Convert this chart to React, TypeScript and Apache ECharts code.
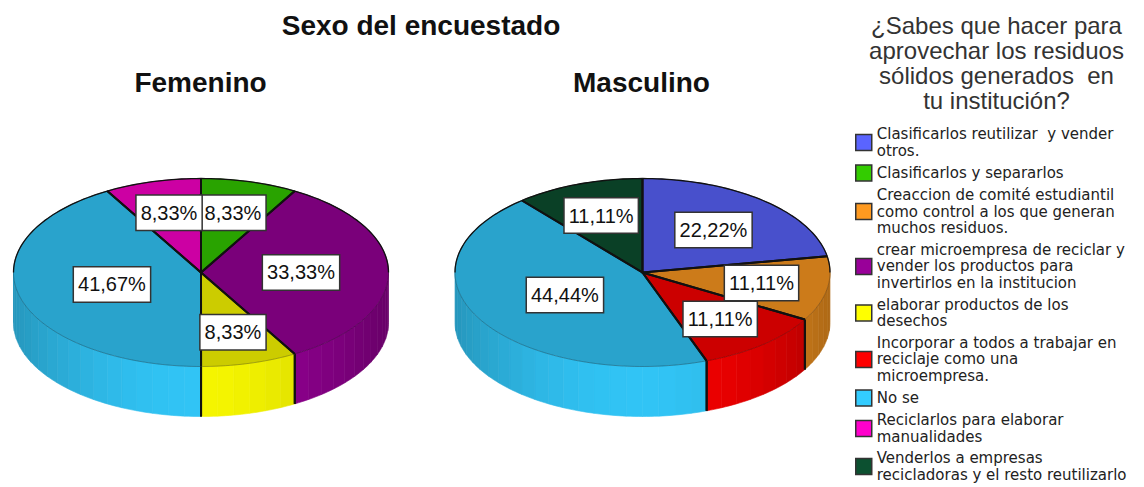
import React, { useEffect, useRef } from "react";
import * as echarts from "echarts";

const mainTitle = "Sexo del encuestado";
const legendTitle = "¿Sabes que hacer para\naprovechar los residuos\nsólidos generados  en\ntu institución?";
const pieNames = ["Femenino", "Masculino"];

const categories = [
  "Clasificarlos reutilizar  y vender\notros.",
  "Clasificarlos y separarlos",
  "Creaccion de comité estudiantil\ncomo control a los que generan\nmuchos residuos.",
  "crear microempresa de reciclar y\nvender los productos para\ninvertirlos en la institucion",
  "elaborar productos de los\ndesechos",
  "Incorporar a todos a trabajar en\nreciclaje como una\nmicroempresa.",
  "No se",
  "Reciclarlos para elaborar\nmanualidades",
  "Venderlos a empresas\nrecicladoras y el resto reutilizarlo",
];
const femeninoValues = [0, 8.33, 0, 33.33, 8.33, 0, 41.67, 8.33, 0];
const masculinoValues = [22.22, 0, 11.11, 0, 0, 11.11, 44.44, 0, 11.11];
const colors = ["#5a64ff", "#33cc00", "#ff9a20", "#990099", "#ffff00", "#ff0000", "#33ccff", "#ff00cc", "#0c5030"];

const FONT = '"Liberation Sans", Arial, sans-serif';
const CENTERS = [201, 642.5];
const CY = 272.5;
const RX = 187.5;
const RY = 94;
const DEPTH = 50;
const TOP_SHADE = 0.8;
const valuesFor = [femeninoValues, masculinoValues];

function shade(hex: string, k: number) {
  const n = parseInt(hex.slice(1), 16);
  const c = [(n >> 16) & 255, (n >> 8) & 255, n & 255].map((v) => Math.min(255, Math.round(v * k)));
  return `rgb(${c[0]},${c[1]},${c[2]})`;
}

function arcPoints(cx: number, a0: number, a1: number, dy = 0) {
  const pts: number[][] = [];
  const n = Math.max(2, Math.ceil((a1 - a0) / 1.5));
  for (let i = 0; i <= n; i++) {
    const t = ((a0 + ((a1 - a0) * i) / n) * Math.PI) / 180;
    pts.push([cx + RX * Math.sin(t), CY - RY * Math.cos(t) + dy]);
  }
  return pts;
}

function sideBrightness(deg: number) {
  const t = Math.max(0, -Math.cos((deg * Math.PI) / 180));
  return (deg > 180 ? 0.74 : 0.68) + (deg > 180 ? 0.22 : 0.28) * t * t;
}

function makeRenderItem(s: number) {
  return (params: any) => {
    const p = params.dataIndex;
    const vals = valuesFor[p];
    const value = vals[s];
    if (!value) return { type: "group", children: [] };
    const total = vals.reduce((a, b) => a + b, 0);
    const before = vals.slice(0, s).reduce((a, b) => a + b, 0);
    const a0 = (before / total) * 360;
    const a1 = ((before + value) / total) * 360;
    const cx = CENTERS[p];
    const base = colors[s];
    const children: any[] = [];

    // side wall, in narrow strips, only on the front half of the rim
    const f0 = Math.max(a0, 90);
    const f1 = Math.min(a1, 270);
    if (f1 > f0) {
      const STEP = 5;
      for (let d = f0; d < f1 - 1e-6; d += STEP) {
        const e = Math.min(d + STEP, f1);
        const up = arcPoints(cx, d, e);
        const down = arcPoints(cx, d, e, DEPTH).reverse();
        const col = shade(base, sideBrightness((d + e) / 2));
        children.push({
          type: "polygon",
          shape: { points: up.concat(down) },
          style: { fill: col, stroke: col, lineWidth: 0.6 },
          z2: 1,
        });
      }
      [a0, a1].forEach((a) => {
        if (a > 90.01 && a < 269.99) {
          const [pt] = arcPoints(cx, a, a + 1);
          children.push({
            type: "line",
            shape: { x1: pt[0], y1: pt[1], x2: pt[0], y2: pt[1] + DEPTH },
            style: { stroke: "#111", lineWidth: 2 },
            z2: 3,
          });
        }
      });
    }

    // top face
    const rim = arcPoints(cx, a0, a1);
    const topCol = shade(base, TOP_SHADE);
    children.push({
      type: "polygon",
      shape: { points: [[cx, CY], ...rim] },
      style: { fill: topCol, stroke: topCol, lineWidth: 0.5 },
      z2: 4,
    });
    // rim outline: black at the back, faint at the front
    children.push({
      type: "polyline",
      shape: { points: rim },
      style: { stroke: "rgba(0,0,0,0.25)", lineWidth: 1, fill: "none" },
      z2: 5,
    });
    const back: number[][][] = [];
    if (a0 < 90) back.push(arcPoints(cx, a0, Math.min(a1, 90)));
    if (a1 > 270) back.push(arcPoints(cx, Math.max(a0, 270), a1));
    back.forEach((pts) =>
      children.push({
        type: "polyline",
        shape: { points: pts },
        style: { stroke: "#111", lineWidth: 1.3, fill: "none" },
        z2: 6,
      })
    );
    // radial edges
    children.push({
      type: "polyline",
      shape: { points: [rim[0], [cx, CY], rim[rim.length - 1]] },
      style: { stroke: "#111", lineWidth: 2, fill: "none" },
      z2: 7,
    });

    // value label, pulled inward as the slice grows
    const mid = (((a0 + a1) / 2) * Math.PI) / 180;
    const k = 0.7 - 0.005 * value;
    children.push({
      type: "text",
      style: {
        x: cx + RX * k * Math.sin(mid),
        y: CY - RY * k * Math.cos(mid),
        text: value.toFixed(2).replace(".", ",") + "%",
        font: `20px ${FONT}`,
        fill: "#111",
        align: "center",
        verticalAlign: "middle",
        backgroundColor: "#fff",
        borderColor: "#333",
        borderWidth: 1.5,
        padding: [8, 4, 6, 4],
      },
      z2: 50,
    });
    return { type: "group", children };
  };
}

export default function App() {
  const ref = useRef<HTMLDivElement>(null);
  useEffect(() => {
    const chart = echarts.init(ref.current!, undefined, { renderer: "svg" });
    const titleStyle = { fontFamily: FONT, fontWeight: "bold" as const, fontSize: 28, color: "#111" };
    chart.setOption({
      animation: false,
      backgroundColor: "#fff",
      title: [
        { text: mainTitle, left: 421, top: 11, padding: 0, textAlign: "center", textStyle: titleStyle },
        { text: pieNames[0], left: 200.5, top: 68, padding: 0, textAlign: "center", textStyle: titleStyle },
        { text: pieNames[1], left: 641.5, top: 68, padding: 0, textAlign: "center", textStyle: titleStyle },
        {
          text: legendTitle,
          left: 996.5,
          top: 13,
          padding: 0,
          textAlign: "center",
          textStyle: { fontFamily: FONT, fontWeight: "normal", fontSize: 24, lineHeight: 25, color: "#333" },
        },
      ],
      legend: {
        orient: "vertical",
        left: 855,
        top: 126,
        height: 400,
        padding: 0,
        itemWidth: 16,
        itemHeight: 16,
        itemGap: 5,
        icon: "rect",
        selectedMode: false,
        data: categories,
        itemStyle: { borderColor: "#333", borderWidth: 1.5 },
        textStyle: { fontFamily: '"DejaVu Sans", sans-serif', fontSize: 15, lineHeight: 16.6, color: "#222" },
      },
      series: categories.map((name, s) => ({
        type: "custom",
        name,
        coordinateSystem: "none",
        silent: true,
        itemStyle: { color: colors[s] },
        data: [femeninoValues[s], masculinoValues[s]],
        renderItem: makeRenderItem(s),
      })),
    });
    return () => chart.dispose();
  }, []);
  return (
    <div
      ref={ref}
      style={{ position: "absolute", left: 0, top: 0, width: 1144, height: 487, background: "#fff" }}
    />
  );
}
